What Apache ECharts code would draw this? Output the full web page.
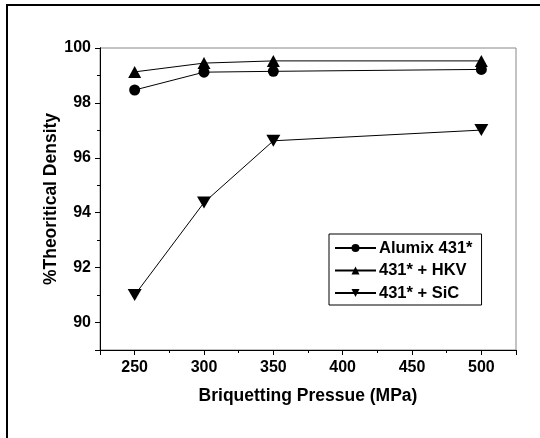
<!DOCTYPE html>
<html>
<head>
<meta charset="utf-8">
<script src="https://cdn.jsdelivr.net/npm/echarts@6/dist/echarts.min.js"></script>
<style>
html,body{margin:0;padding:0;background:#fff;}
#chart{width:540px;height:438px;}
</style>
</head>
<body>
<div id="chart"></div>
<script>
const pressures = [250, 300, 350, 500];
const alumix = [98.47, 99.12, 99.15, 99.22];
const hkv = [99.13, 99.45, 99.53, 99.53];
const sic = [91.0, 94.37, 96.62, 97.01];
const seriesNames = ['Alumix 431*', '431* + HKV', '431* + SiC'];
const xTickLabels = [250, 300, 350, 400, 450, 500];
const yTickLabels = [90, 92, 94, 96, 98, 100];

const FONT = '"Liberation Sans", Arial, sans-serif';
const chart = echarts.init(document.getElementById('chart'), null, {renderer: 'canvas'});

function pairs(vals) { return pressures.map((p, i) => [p, vals[i]]); }

const option = {
  animation: false,
  backgroundColor: '#fff',
  textStyle: {fontFamily: FONT},
  grid: {left: 100, right: 24, top: 48, bottom: 88, show: true, borderColor: '#888', borderWidth: 1, backgroundColor: 'transparent'},
  xAxis: [
    {
      type: 'value', position: 'bottom', min: 225, max: 525, interval: 25,
      axisLine: {onZero: false, lineStyle: {color: '#000', width: 1}},
      axisTick: {show: true, inside: false, length: 3, lineStyle: {color: '#000'}},
      axisLabel: {show: false}, splitLine: {show: false}
    },
    {
      type: 'value', position: 'bottom', min: 225, max: 525, splitNumber: 6,
      axisLine: {onZero: false, lineStyle: {color: '#000', width: 1}},
      axisTick: {show: true, inside: false, length: 5, lineStyle: {color: '#000'}},
      axisLabel: {
        margin: 10, color: '#000', fontFamily: FONT, fontWeight: 'bold', fontSize: 16,
        formatter: v => (xTickLabels.indexOf(v) >= 0 ? String(v) : '')
      },
      splitLine: {show: false},
      name: 'Briquetting Pressue (MPa)', nameLocation: 'middle', nameGap: 37, nameMoveOverlap: false,
      nameTextStyle: {color: '#000', fontFamily: FONT, fontWeight: 'bold', fontSize: 17.5}
    }
  ],
  yAxis: [
    {
      type: 'value', position: 'left', min: 89, max: 100, interval: 1,
      axisLine: {show: true, onZero: false, lineStyle: {color: '#000', width: 1}},
      axisTick: {show: true, inside: false, length: 3, lineStyle: {color: '#000'}},
      axisLabel: {show: false}, splitLine: {show: false}
    },
    {
      type: 'value', position: 'left', min: 89, max: 100, splitNumber: 5,
      axisLine: {show: true, onZero: false, lineStyle: {color: '#000', width: 1}},
      axisTick: {show: true, inside: false, length: 5, lineStyle: {color: '#000'}},
      axisLabel: {
        margin: 9, color: '#000', fontFamily: FONT, fontWeight: 'bold', fontSize: 16,
        formatter: v => (yTickLabels.indexOf(v) >= 0 ? String(v) : '')
      },
      splitLine: {show: false},
      name: '%Theoritical Density', nameLocation: 'middle', nameGap: 40, nameRotate: 90, nameMoveOverlap: false,
      nameTextStyle: {color: '#000', fontFamily: FONT, fontWeight: 'bold', fontSize: 17.5}
    }
  ],
  legend: {
    orient: 'vertical', left: 329, top: 234,
    padding: [5, 9, 3, 5], itemGap: 4.5, itemWidth: 41, itemHeight: 10,
    backgroundColor: '#fff', borderColor: '#000', borderWidth: 1, borderRadius: 0,
    textStyle: {color: '#000', fontFamily: FONT, fontWeight: 'bold', fontSize: 16.5, lineHeight: 18, padding: [0, 0, 0, -2]},
    data: seriesNames
  },
  series: [
    {
      name: seriesNames[0], type: 'line', xAxisIndex: 1, yAxisIndex: 1,
      data: pairs(alumix), symbol: 'circle', symbolSize: 11,
      lineStyle: {color: '#000', width: 1}, itemStyle: {color: '#000'}, z: 3
    },
    {
      name: seriesNames[1], type: 'line', xAxisIndex: 1, yAxisIndex: 1,
      data: pairs(hkv), symbol: 'triangle', symbolSize: [13, 12],
      lineStyle: {color: '#000', width: 1}, itemStyle: {color: '#000'}, z: 3
    },
    {
      name: seriesNames[2], type: 'line', xAxisIndex: 1, yAxisIndex: 1,
      data: pairs(sic), symbol: 'triangle', symbolRotate: 180, symbolSize: [14, 12],
      lineStyle: {color: '#000', width: 1}, itemStyle: {color: '#000'}, z: 3
    }
  ],
  graphic: [
    {type: 'line', shape: {x1: 6, y1: 5, x2: 540, y2: 5}, style: {stroke: '#000', lineWidth: 2}, silent: true},
    {type: 'line', shape: {x1: 7, y1: 4, x2: 7, y2: 438}, style: {stroke: '#000', lineWidth: 2}, silent: true}
  ]
};
chart.setOption(option);
</script>
</body>
</html>
